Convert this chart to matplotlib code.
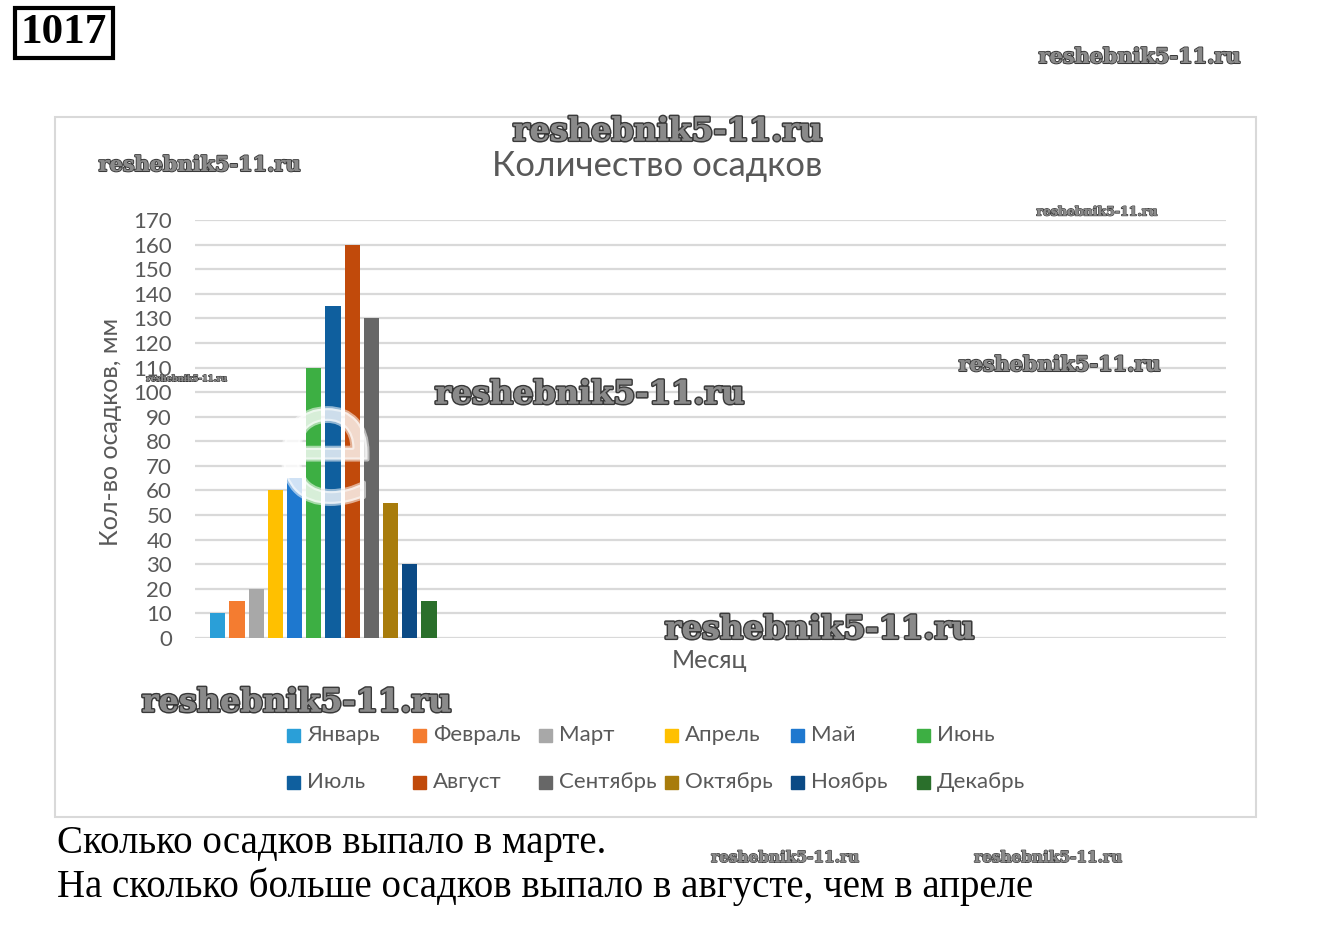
import matplotlib
matplotlib.use("Agg")
import matplotlib.pyplot as plt
import matplotlib.patches as mpatches
import matplotlib.patheffects as pe

W, H = 1318, 951

months = ["Январь", "Февраль", "Март", "Апрель", "Май", "Июнь",
          "Июль", "Август", "Сентябрь", "Октябрь", "Ноябрь", "Декабрь"]
rain_mm = [10, 15, 20, 60, 65, 110, 135, 160, 130, 55, 30, 15]
colors = ["#2A9FD8", "#F47C30", "#A8A8A8", "#FFC000", "#1E78CF", "#3DAF43",
          "#0F5F9E", "#C14A0B", "#676767", "#A87C0C", "#0B4A85", "#2A6F2B"]
y_ticks = list(range(0, 171, 10))

title = "Количество осадков"
x_label = "Месяц"
y_label = "Кол-во осадков, мм"
task_number = "1017"
questions = ["Сколько осадков выпало в марте.",
             "На сколько больше осадков выпало в августе, чем в апреле"]
watermark = "reshebnik5-11.ru"
# (x, y, size) of each watermark in pixels of the page
watermark_spots = [(1140, 57, 15), (668, 132, 23), (200, 165, 15), (1097, 212, 9),
                   (1060, 365, 15), (590, 395, 23), (187, 379, 6), (820, 630, 23),
                   (297, 703, 23), (785, 858, 11), (1048, 858, 11)]

SANS = ["Lato", "DejaVu Sans"]
SERIF = ["Liberation Serif", "DejaVu Serif"]
GRAY_TEXT = "#595959"


def fx(px):
    return px / W


def fy(py):
    return 1 - py / H


fig = plt.figure(figsize=(W / 100, H / 100), dpi=100)
fig.patch.set_facecolor("white")

# chart frame
fig.patches.append(mpatches.Rectangle((fx(55), fy(817)), fx(1256) - fx(55), fy(117) - fy(817),
                                      transform=fig.transFigure, fill=False,
                                      edgecolor="#D9D9D9", linewidth=1.5))

ax = fig.add_axes([fx(195), fy(638), fx(1226) - fx(195), fy(220) - fy(638)])
pitch = 19.2
x_left = -(217.8 - 195) / pitch
x_right = (1226 - 217.8) / pitch
bars = ax.bar(range(len(months)), rain_mm, width=0.8, color=colors, zorder=3)
ax.set_xlim(x_left, x_right)
ax.set_ylim(0, 170)
ax.set_yticks(y_ticks)
ax.set_xticks([])
ax.grid(axis="y", color="#D9D9D9", linewidth=1.6, zorder=0)
ax.set_axisbelow(True)
for side in ["top", "right", "left", "bottom"]:
    ax.spines[side].set_visible(False)
ax.tick_params(axis="y", length=0, pad=16.5, labelsize=16, labelcolor=GRAY_TEXT)
for lbl in ax.get_yticklabels():
    lbl.set_family(SANS)
ax.set_facecolor("none")

fig.text(fx(657), fy(166), title, ha="center", va="center", fontsize=25,
         color=GRAY_TEXT, family=SANS)
fig.text(fx(710), fy(660), x_label, ha="center", va="center", fontsize=18,
         color=GRAY_TEXT, family=SANS)
fig.text(fx(110), fy(432), y_label, ha="center", va="center", rotation=90,
         fontsize=18, color=GRAY_TEXT, family=SANS)

# legend, two rows of six
for i, (name, col) in enumerate(zip(months, colors)):
    r, c = divmod(i, 6)
    x0 = 287 + c * 126
    y0 = 735 + r * 47
    fig.patches.append(mpatches.Rectangle((fx(x0), fy(y0 + 7)), fx(13), 13 / H,
                                          transform=fig.transFigure, color=col))
    fig.text(fx(x0 + 20), fy(y0), name, ha="left", va="center", fontsize=16,
             color=GRAY_TEXT, family=SANS)

# task number box
fig.text(fx(64), fy(33), task_number, ha="center", va="center", fontsize=31,
         fontweight="bold", family=SERIF,
         bbox=dict(boxstyle="square,pad=0.14", facecolor="white",
                   edgecolor="black", linewidth=3))

for i, q in enumerate(questions):
    fig.text(fx(57), fy(843 + i * 44), q, ha="left", va="center", fontsize=28,
             family=SERIF, color="black")

# translucent logo over the bars
fig.text(fx(325), fy(455), "e", ha="center", va="center", fontsize=120,
         color="white", alpha=0.55, family="DejaVu Sans",
         path_effects=[pe.withStroke(linewidth=3, foreground="white")])

for x, y, s in watermark_spots:
    fig.text(fx(x), fy(y), watermark, ha="center", va="center", fontsize=s,
             fontweight="bold", family=["DejaVu Serif"], color="#8A8A8A",
             path_effects=[pe.withStroke(linewidth=max(1, s / 10), foreground="#3A3A3A"),
                           pe.Normal()])

fig.savefig("out.png", dpi=100)
